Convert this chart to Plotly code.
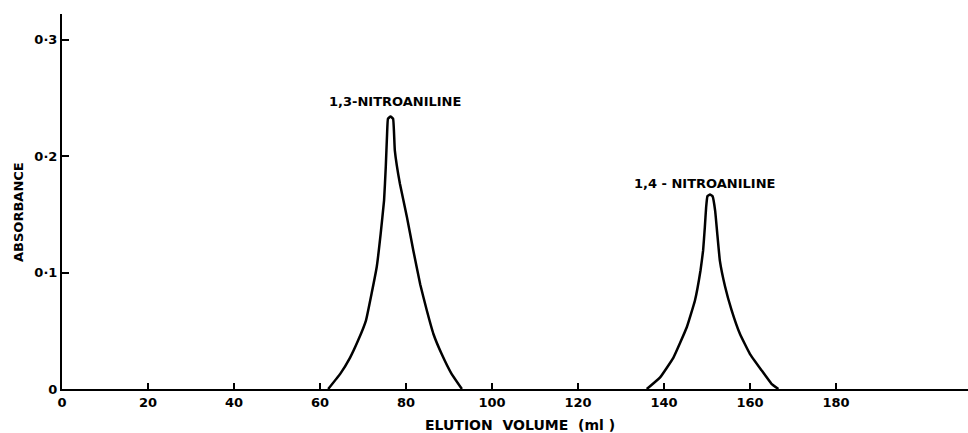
import plotly.graph_objects as go

# Peak 1: 1,3-nitroaniline
peak1_x = [61.9, 64.7, 67.0, 68.9, 70.7, 72.0, 73.2, 74.1, 74.9, 75.3, 75.6, 75.8, 76.4, 77.0, 77.4,
           78.6, 80.2, 81.7, 83.3, 84.8, 86.4, 88.3, 90.6, 93.0]
peak1_y = [0.0, 0.013, 0.027, 0.042, 0.059, 0.082, 0.105, 0.133, 0.162, 0.191, 0.219, 0.232, 0.234, 0.232, 0.205,
           0.176, 0.148, 0.119, 0.090, 0.068, 0.047, 0.030, 0.013, 0.0]

# Peak 2: 1,4-nitroaniline
peak2_x = [136.0, 139.1, 142.2, 145.3, 147.2, 148.5, 149.1, 149.5, 149.8, 150.1, 150.7, 151.3, 151.9, 152.4,
           153.0, 154.2, 155.7, 157.7, 160.0, 162.7, 165.0, 166.6]
peak2_y = [0.0, 0.010, 0.027, 0.053, 0.076, 0.102, 0.119, 0.139, 0.156, 0.1655, 0.167, 0.1655, 0.153, 0.133,
           0.110, 0.088, 0.068, 0.047, 0.030, 0.016, 0.0045, 0.0]

x_ticks = [0, 20, 40, 60, 80, 100, 120, 140, 160, 180]
x_tick_text = ["0", "20", "40", "60", "80", "100", "120", "140", "160", "180"]
y_ticks = [0, 0.1, 0.2, 0.3]
y_tick_text = ["0", "0·1", "0·2", "0·3"]

labels = ["1,3-NITROANILINE", "1,4 - NITROANILINE"]
label_x = [77.4, 149.5]
label_y = [0.247, 0.1767]

FONT = "DejaVu Sans"
fig = go.Figure()
for xs, ys in [(peak1_x, peak1_y), (peak2_x, peak2_y)]:
    fig.add_trace(go.Scatter(x=xs, y=ys, mode="lines",
                             line=dict(color="black", width=2.5, shape="spline", smoothing=0.3),
                             hoverinfo="skip", showlegend=False))

for t, lx, ly in zip(labels, label_x, label_y):
    fig.add_annotation(x=lx, y=ly, xref="x", yref="y", text=t, showarrow=False,
                       xanchor="center", yanchor="middle",
                       font=dict(family=FONT, size=13, color="black", weight="bold"))

fig.add_annotation(x=-0.0486, y=0.472, xref="paper", yref="paper", text="ABSORBANCE",
                   textangle=-90, showarrow=False, xanchor="center", yanchor="middle",
                   font=dict(family=FONT, size=13, color="black", weight="bold"))
fig.add_annotation(x=0.505, y=0, xref="paper", yref="paper", text="ELUTION  VOLUME  (ml )",
                   showarrow=False, xanchor="center", yanchor="middle", yshift=-36,
                   font=dict(family=FONT, size=14, color="black", weight="bold"))

fig.update_layout(
    width=968, height=433,
    margin=dict(l=62, r=0, t=14, b=44),
    paper_bgcolor="white", plot_bgcolor="white",
    xaxis=dict(range=[0, 210.7], tickvals=x_ticks, ticktext=x_tick_text,
               showgrid=False, zeroline=False, showline=True, linecolor="black", linewidth=2,
               ticks="inside", ticklen=6, tickwidth=1.5, tickcolor="black",
               tickfont=dict(family=FONT, size=13, color="black", weight="bold")),
    yaxis=dict(range=[0, 0.322], tickvals=y_ticks, ticktext=y_tick_text,
               showgrid=False, zeroline=False, showline=True, linecolor="black", linewidth=2,
               ticks="inside", ticklen=7, tickwidth=1.5, tickcolor="black",
               tickfont=dict(family=FONT, size=13, color="black", weight="bold")),
)

fig.write_html("out.html")
